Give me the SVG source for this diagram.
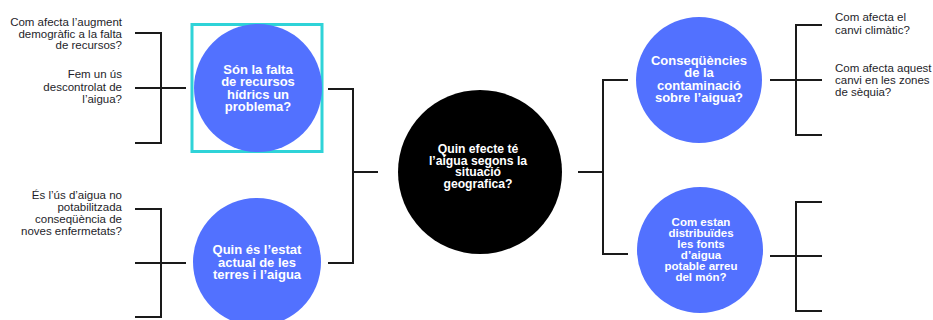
<svg xmlns="http://www.w3.org/2000/svg" width="933" height="320" viewBox="0 0 933 320">
<style>
.bg{fill:#ffffff}
.blue{fill:#5271ff}
.black{fill:#000000}
.ln{stroke:#1a1a1a;stroke-width:2;fill:none}
.ct{font-family:"Liberation Sans",Arial,sans-serif;font-weight:bold;font-size:13px;fill:#ffffff;text-anchor:middle;dominant-baseline:central}
.q{font-family:"Liberation Sans",Arial,sans-serif;font-size:11.5px;fill:#1e1e2a;dominant-baseline:central}
.r{text-anchor:end}
.sel{fill:none;stroke:#2fd3d8;stroke-width:3}
.c2{font-size:12.2px}
.c3{font-size:11.5px}
</style>
<rect class="bg" x="0" y="0" width="933" height="320"/>
<g id="connectors">
<path class="ln" d="M135,33 H161 V143 H135 M135,88 H186"/>
<path class="ln" d="M135,209 H161 V317 H135 M135,263 H186"/>
<path class="ln" d="M328,89 H353 V263 H328 M353,172 H378"/>
<path class="ln" d="M628,80 H603 V254 H628 M578,172 H603"/>
<path class="ln" d="M822,25 H796 V135 H822 M770,80 H822"/>
<path class="ln" d="M822,202 H796 V311 H822 M770,256 H822"/>
</g>
<g id="n-q1">
<text class="q r" x="122" y="22">Com afecta l’augment</text>
<text class="q r" x="122" y="33.5">demogràfic a la falta</text>
<text class="q r" x="122" y="45">de recursos?</text>
</g>
<g id="n-q2">
<text class="q r" x="122" y="74">Fem un ús</text>
<text class="q r" x="122" y="86.5">descontrolat de</text>
<text class="q r" x="122" y="99">l’aigua?</text>
</g>
<g id="n-q3">
<text class="q r" x="122" y="195">És l’ús d’aigua no</text>
<text class="q r" x="122" y="207">potabilitzada</text>
<text class="q r" x="122" y="219">conseqüència de</text>
<text class="q r" x="122" y="231">noves enfermetats?</text>
</g>
<g id="n-left-top">
<rect class="sel" x="192" y="24.5" width="130" height="127"/>
<circle class="blue" cx="258" cy="88" r="64"/>
<text class="ct" x="258" y="69">Són la falta</text>
<text class="ct" x="258" y="81.5">de recursos</text>
<text class="ct" x="258" y="94">hídrics un</text>
<text class="ct" x="258" y="106.5">problema?</text>
</g>
<g id="n-left-bottom">
<circle class="blue" cx="257" cy="262" r="64"/>
<text class="ct" x="257" y="249.5">Quin és l’estat</text>
<text class="ct" x="257" y="262">actual de les</text>
<text class="ct" x="257" y="274.5">terres i l’aigua</text>
</g>
<g id="n-center">
<circle class="black" cx="480" cy="172" r="82"/>
<text class="ct c2" x="478" y="149">Quin efecte té</text>
<text class="ct c2" x="478" y="160.5">l’aigua segons la</text>
<text class="ct c2" x="478" y="172">situació</text>
<text class="ct c2" x="478" y="183.5">geografica?</text>
</g>
<g id="n-right-top">
<circle class="blue" cx="699" cy="80" r="63"/>
<text class="ct" x="699" y="60">Conseqüències</text>
<text class="ct" x="699" y="72.5">de la</text>
<text class="ct" x="699" y="85">contaminació</text>
<text class="ct" x="699" y="97.5">sobre l’aigua?</text>
</g>
<g id="n-right-bottom">
<circle class="blue" cx="700" cy="250" r="63"/>
<text class="ct c3" x="701" y="221.5">Com estan</text>
<text class="ct c3" x="701" y="232.5">distribuïdes</text>
<text class="ct c3" x="701" y="243.5">les fonts</text>
<text class="ct c3" x="701" y="254.5">d’aigua</text>
<text class="ct c3" x="701" y="265.5">potable arreu</text>
<text class="ct c3" x="701" y="276.5">del món?</text>
</g>
<g id="n-q4">
<text class="q" x="835" y="17">Com afecta el</text>
<text class="q" x="835" y="29.5">canvi climàtic?</text>
</g>
<g id="n-q5">
<text class="q" x="835" y="68">Com afecta aquest</text>
<text class="q" x="835" y="80">canvi en les zones</text>
<text class="q" x="835" y="91.5">de sèquia?</text>
</g>
</svg>
